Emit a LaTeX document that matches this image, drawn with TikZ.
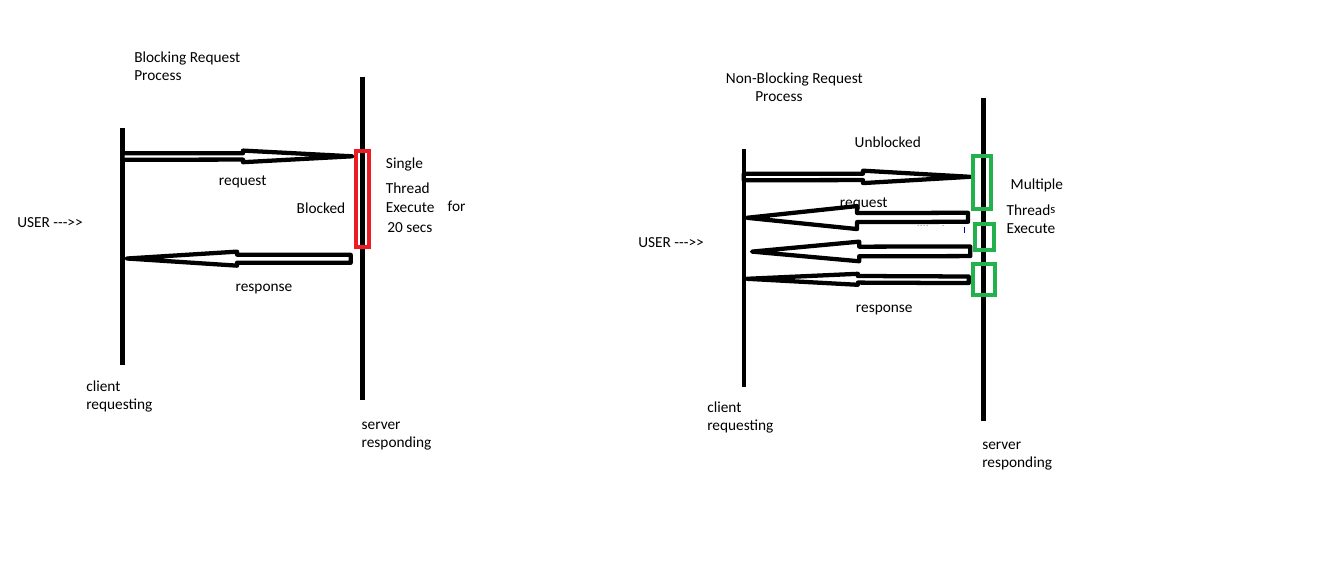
\documentclass[tikz,border=0pt]{standalone}
\usepackage{fontspec}
\setmainfont{Carlito}
\usetikzlibrary{calc}

\definecolor{paintred}{RGB}{237,28,36}
\definecolor{paintgreen}{RGB}{34,177,76}

% hollow paint-style arrow: tail, tip, shaft half width, head half width, head base position
\newcommand{\paintarrow}[5]{%
  \coordinate (pam) at ($(#1)!#5!(#2)$);
  \draw[blockarrow] ($(#1)+(0,-#3)$) -- ($(pam)+(0,-#3)$) -- ($(pam)+(0,-#4)$) -- (#2)
    -- ($(pam)+(0,#4)$) -- ($(pam)+(0,#3)$) -- ($(#1)+(0,#3)$) -- cycle;}
\newcommand{\dashes}{\mbox{-}\mbox{-}\mbox{-}\mbox{>}\mbox{>}}

\begin{document}
\begin{tikzpicture}[x=0.75pt, y=-0.75pt,
  lifeline/.style={line width=3.2pt, draw=black},
  blockarrow/.style={line width=3.2pt, draw=black, fill=white, line join=round},
  busybox/.style={line width=3pt, draw=#1},
  txt/.style={anchor=base west, inner sep=0pt, font=\fontsize{11.5}{13.5}\selectfont}]
\useasboundingbox (0,0) rectangle (1330,574);

% blocking side
\coordinate (bct) at (122.5,128.3);
\coordinate (bcb) at (122.5,365);
\coordinate (bst) at (362.5,76.7);
\coordinate (bsb) at (362.5,400);
\draw[lifeline] (bct) -- (bcb);
\draw[lifeline] (bst) -- (bsb);

\node[txt] (btitle) at (134,62.8) {Blocking Request};
\node[txt] (btitle2) at (134,80.3) {Process};
\node[txt] (buser) at (17,227.2) {USER \dashes};
\node[txt] (breq) at (218.7,185.5) {request};
\node[txt] (bblk) at (296.4,213) {Blocked};
\node[txt] (bsingle) at (385.7,168.8) {Single};
\node[txt] (bthread) at (385.7,193.8) {Thread};
\node[txt] (bexec) at (385.7,212.2) {Execute};
\node[txt] (bfor) at (447.4,211.2) {for};
\node[txt] (bsecs) at (387,232.2) {20 secs};
\node[txt] (bresp) at (235.4,291.2) {response};
\node[txt] (bclient) at (86,391.5) {client};
\node[txt] (bclient2) at (86,409.5) {requesting};
\node[txt] (bserver) at (361.4,429.8) {server};
\node[txt] (bserver2) at (361.4,447.8) {responding};

\coordinate (breqa) at (122.5,156.5);
\coordinate (breqb) at (352,156.3);
\coordinate (bresa) at (350.7,258.8);
\coordinate (bresb) at (127,258.5);
\paintarrow{breqa}{breqb}{3.2}{5.8}{0.525}
\paintarrow{bresa}{bresb}{4}{7}{0.508}

\draw[busybox=paintred] (356,151.3) rectangle (368.7,247.3);

% non-blocking side
\coordinate (nct) at (743.8,149.3);
\coordinate (ncb) at (743.8,386.7);
\coordinate (nst) at (983.5,98.3);
\coordinate (nsb) at (983.5,420.7);
\draw[lifeline] (nct) -- (ncb);
\draw[lifeline] (nst) -- (nsb);

\node[txt] (ntitle) at (725.7,83.8) {Non-Blocking Request};
\node[txt] (ntitle2) at (755,101.2) {Process};
\node[txt] (nunblk) at (854.4,147.2) {Unblocked};
\node[txt] (nmulti) at (1010.4,189.5) {Multiple};
\node[txt] (nthread) at (1006.4,215.5) {Thread\raisebox{1.3pt}{\fontsize{9.5}{9.5}\selectfont s}};
\node[txt] (nexec) at (1006.4,233.2) {Execute};
\node[txt] (nreq) at (839.7,207.2) {request};
\node[txt] (nuser) at (638,247.8) {USER \dashes};
\node[txt] (nresp) at (855.7,312.2) {response};
\node[txt] (nclient) at (707,412.2) {client};
\node[txt] (nclient2) at (707,430.5) {requesting};
\node[txt] (nserver) at (982,449.8) {server};
\node[txt] (nserver2) at (982,467.8) {responding};

\coordinate (nreqa) at (743.8,177);
\coordinate (nreqb) at (970,176.8);
\coordinate (nr1a) at (968,217.3);
\coordinate (nr1b) at (747,217.8);
\coordinate (nr2a) at (970.3,251.3);
\coordinate (nr2b) at (752,251.6);
\coordinate (nr3a) at (968.7,279.8);
\coordinate (nr3b) at (747,278.8);
\paintarrow{nreqa}{nreqb}{3.2}{6.2}{0.527}
\paintarrow{nr1a}{nr1b}{4.5}{11.5}{0.502}
\paintarrow{nr2a}{nr2b}{4.8}{9.8}{0.509}
\paintarrow{nr3a}{nr3b}{3.3}{5.5}{0.50}

\draw[busybox=paintgreen] (972.7,156) rectangle (991.3,209);
\draw[busybox=paintgreen] (974.7,223.7) rectangle (993.7,249.7);
\draw[busybox=paintgreen] (972.7,263.7) rectangle (994.7,294.7);

% stray marks
\foreach \x in {918,921,924,927,943}
  \fill[black!60] (\x,225.5) circle (0.5);
\draw[blue!70!black, line width=0.75pt] (964.3,226.7) -- (964.3,233.3);
\end{tikzpicture}
\end{document}
